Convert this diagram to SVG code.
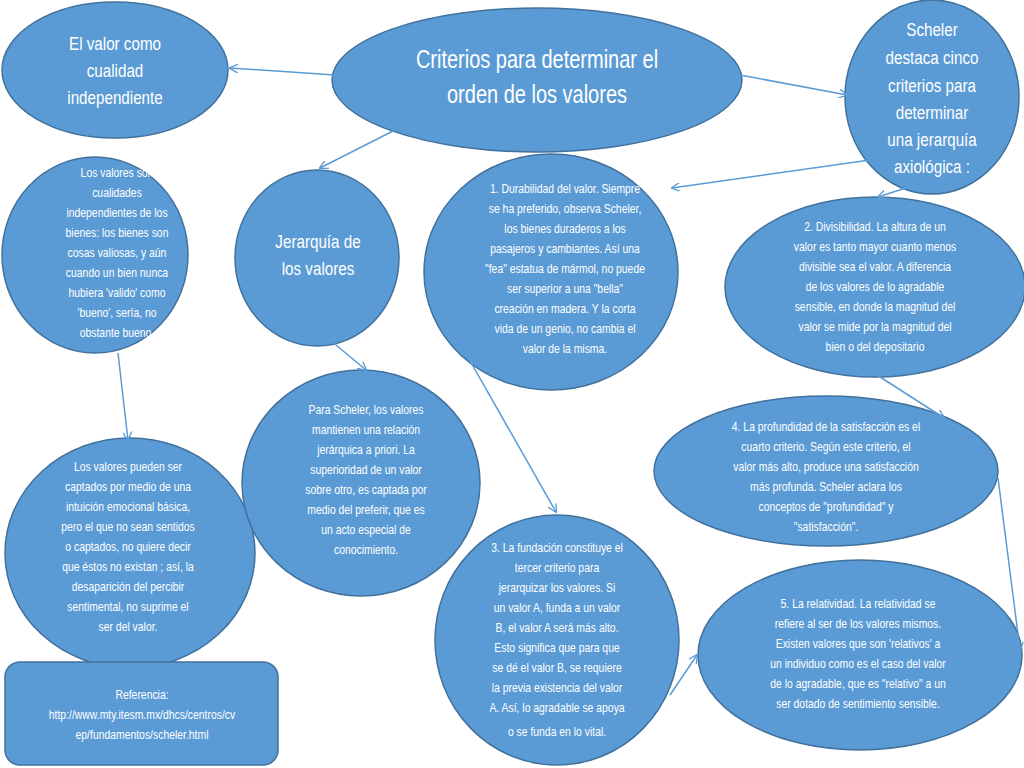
<svg xmlns="http://www.w3.org/2000/svg" width="1024" height="768" viewBox="0 0 1024 768">
<style>
.n{fill:#5b9bd5;stroke:#41719c;stroke-width:1.5}
text{font-family:"Liberation Sans",sans-serif;fill:#fff;text-anchor:middle}
.s{font-size:13px}
.l{font-size:19px}
.c line{stroke:#5b9bd5;stroke-width:1.5;marker-end:url(#a)}
</style>
<defs><marker id="a" viewBox="0 0 10 10" refX="9" refY="5" markerWidth="9" markerHeight="9" orient="auto" markerUnits="userSpaceOnUse"><path d="M0,0L10,5L0,10" fill="none" stroke="#5b9bd5" stroke-width="1.5"/></marker></defs>
<rect width="1024" height="768" fill="#fff"/>
<g id="n1"><ellipse class="n" cx="115" cy="70" rx="113" ry="68"/><g transform="translate(115,0) scale(0.8,1)"><text class="l" x="0" y="50">El valor como</text><text class="l" x="0" y="77">cualidad</text><text class="l" x="0" y="104">independiente</text></g></g>
<g id="n2"><ellipse class="n" cx="537" cy="80" rx="205" ry="72"/><g transform="translate(537,0) scale(0.8,1)"><text x="0" y="68" font-size="25">Criterios para determinar el</text><text x="0" y="103" font-size="25">orden de los valores</text></g></g>
<g id="n3"><ellipse class="n" cx="932" cy="97" rx="87" ry="97"/><g transform="translate(932,0) scale(0.8,1)"><text class="l" x="0" y="36">Scheler</text><text class="l" x="0" y="64">destaca cinco</text><text class="l" x="0" y="92">criterios para</text><text class="l" x="0" y="119">determinar</text><text class="l" x="0" y="146">una jerarquía</text><text class="l" x="0" y="173">axiológica :</text></g></g>
<g id="n4"><ellipse class="n" cx="95" cy="255" rx="93" ry="98"/><g transform="translate(117,0) scale(0.8,1)"><text class="s"><tspan x="0" y="177">Los valores son</tspan><tspan x="0" y="197">cualidades</tspan><tspan x="0" y="217">independientes de los</tspan><tspan x="0" y="237">bienes: los bienes son</tspan><tspan x="0" y="257">cosas valiosas, y aún</tspan><tspan x="0" y="277">cuando un bien nunca</tspan><tspan x="0" y="297">hubiera 'valido' como</tspan><tspan x="0" y="317">'bueno', sería, no</tspan><tspan x="0" y="337">obstante bueno.</tspan></text></g></g>
<g id="n5"><ellipse class="n" cx="317" cy="258" rx="82" ry="88"/><g transform="translate(318,0) scale(0.8,1)"><text class="l" x="0" y="248">Jerarquía de</text><text class="l" x="0" y="275">los valores</text></g></g>
<g id="n6"><ellipse class="n" cx="551" cy="272" rx="127" ry="118"/><g transform="translate(565,0) scale(0.8,1)"><text class="s"><tspan x="0" y="193">1. Durabilidad del valor. Siempre</tspan><tspan x="0" y="213">se ha preferido, observa Scheler,</tspan><tspan x="0" y="233">los bienes duraderos a los</tspan><tspan x="0" y="253">pasajeros y cambiantes. Así una</tspan><tspan x="0" y="273">"fea" estatua de mármol, no puede</tspan><tspan x="0" y="293">ser superior a una "bella"</tspan><tspan x="0" y="313">creación en madera. Y la corta</tspan><tspan x="0" y="333">vida de un genio, no cambia el</tspan><tspan x="0" y="353">valor de la misma.</tspan></text></g></g>
<g id="n7"><ellipse class="n" cx="875" cy="287" rx="150" ry="90"/><g transform="translate(875,0) scale(0.8,1)"><text class="s"><tspan x="0" y="231">2. Divisibilidad. La altura de un</tspan><tspan x="0" y="251">valor es tanto mayor cuanto menos</tspan><tspan x="0" y="271">divisible sea el valor. A diferencia</tspan><tspan x="0" y="291">de los valores de lo agradable</tspan><tspan x="0" y="311">sensible, en donde la magnitud del</tspan><tspan x="0" y="331">valor se mide por la magnitud del</tspan><tspan x="0" y="351">bien o del depositario</tspan></text></g></g>
<g id="n8"><ellipse class="n" cx="130" cy="553" rx="125" ry="115"/><g transform="translate(128,0) scale(0.8,1)"><text class="s"><tspan x="0" y="471">Los valores pueden ser</tspan><tspan x="0" y="491">captados por medio de una</tspan><tspan x="0" y="511">intuición emocional básica,</tspan><tspan x="0" y="531">pero el que no sean sentidos</tspan><tspan x="0" y="551">o captados, no quiere decir</tspan><tspan x="0" y="571">que éstos no existan ; así, la</tspan><tspan x="0" y="591">desaparición del percibir</tspan><tspan x="0" y="611">sentimental, no suprime el</tspan><tspan x="0" y="631">ser del valor.</tspan></text></g></g>
<g id="n9"><ellipse class="n" cx="361" cy="483" rx="119" ry="113"/><g transform="translate(366,0) scale(0.8,1)"><text class="s"><tspan x="0" y="414">Para Scheler, los valores</tspan><tspan x="0" y="434">mantienen una relación</tspan><tspan x="0" y="454">jerárquica a priori. La</tspan><tspan x="0" y="474">superioridad de un valor</tspan><tspan x="0" y="494">sobre otro, es captada por</tspan><tspan x="0" y="514">medio del preferir, que es</tspan><tspan x="0" y="534">un acto especial de</tspan><tspan x="0" y="554">conocimiento.</tspan></text></g></g>
<g id="n10"><ellipse class="n" cx="826" cy="471" rx="172" ry="75"/><g transform="translate(826,0) scale(0.8,1)"><text class="s"><tspan x="0" y="431">4. La profundidad de la satisfacción es el</tspan><tspan x="0" y="451">cuarto criterio. Según este criterio, el</tspan><tspan x="0" y="471">valor más alto, produce una satisfacción</tspan><tspan x="0" y="491">más profunda. Scheler aclara los</tspan><tspan x="0" y="511">conceptos de "profundidad" y</tspan><tspan x="0" y="531">"satisfacción".</tspan></text></g></g>
<g id="n11"><ellipse class="n" cx="557" cy="640" rx="122" ry="125"/><g transform="translate(557,0) scale(0.8,1)"><text class="s"><tspan x="0" y="552">3. La fundación constituye el</tspan><tspan x="0" y="572">tercer criterio para</tspan><tspan x="0" y="592">jerarquizar los valores. Si</tspan><tspan x="0" y="612">un valor A, funda a un valor</tspan><tspan x="0" y="632">B, el valor A será más alto.</tspan><tspan x="0" y="652">Esto significa que para que</tspan><tspan x="0" y="672">se dé el valor B, se requiere</tspan><tspan x="0" y="692">la previa existencia del valor</tspan><tspan x="0" y="712">A. Así, lo agradable se apoya</tspan><tspan x="0" y="736">o se funda en lo vital.</tspan></text></g></g>
<g id="n12"><ellipse class="n" cx="860" cy="655" rx="162" ry="95"/><g transform="translate(858,0) scale(0.8,1)"><text class="s"><tspan x="0" y="608">5. La relatividad. La relatividad se</tspan><tspan x="0" y="628">refiere al ser de los valores mismos.</tspan><tspan x="0" y="648">Existen valores que son 'relativos' a</tspan><tspan x="0" y="668">un individuo como es el caso del valor</tspan><tspan x="0" y="688">de lo agradable, que es "relativo" a un</tspan><tspan x="0" y="708">ser dotado de sentimiento sensible.</tspan></text></g></g>
<g id="n13"><rect class="n" x="5" y="662" width="273" height="103" rx="15"/><g transform="translate(142,0) scale(0.8,1)"><text class="s"><tspan x="0" y="699">Referencia:</tspan><tspan x="0" y="719">http://www.mty.itesm.mx/dhcs/centros/cv</tspan><tspan x="0" y="739">ep/fundamentos/scheler.html</tspan></text></g></g>
<g class="c">
<line x1="335" y1="75" x2="230" y2="68"/>
<line x1="395" y1="130" x2="320" y2="168"/>
<line x1="740" y1="75" x2="847" y2="95"/>
<line x1="870" y1="160" x2="672" y2="188"/>
<line x1="915" y1="185" x2="878" y2="197"/>
<line x1="118" y1="353" x2="128" y2="440"/>
<line x1="330" y1="340" x2="366" y2="370"/>
<line x1="465" y1="352" x2="556" y2="512"/>
<line x1="877" y1="375" x2="944" y2="418"/>
<line x1="998" y1="478" x2="1020" y2="650"/>
<line x1="670" y1="695" x2="697" y2="655"/>
</g>
</svg>
